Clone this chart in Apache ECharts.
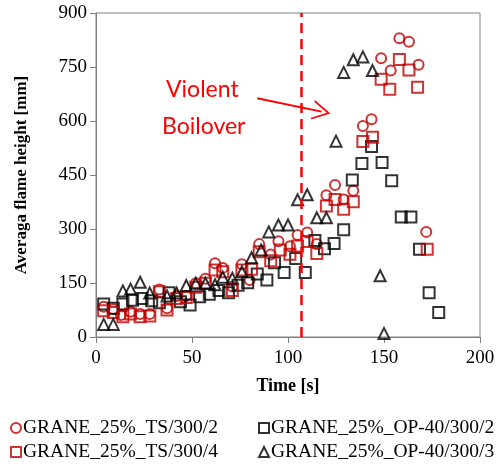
<!DOCTYPE html>
<html>
<head>
<meta charset="utf-8">
<script src="https://cdn.jsdelivr.net/npm/echarts@6/dist/echarts.min.js"></script>
<style>
html, body { margin: 0; padding: 0; background: #fff; }
#main { width: 503px; height: 468px; }
</style>
</head>
<body>
<div id="main"></div>
<script>
// GRANE_25%_TS/300/2 (red circles)
var ts2Time = [4, 9, 13, 18, 23, 28, 33, 37, 42, 47, 52, 57, 62, 66, 71, 76, 80, 85, 91, 95, 101, 105, 110, 115, 120, 124.5, 129, 134, 139, 143.5, 148.5, 153.5, 158, 163, 168, 172];
var ts2Height = [84, 77, 61, 70, 64, 64, 132, 80, 114, 114, 149, 162, 205, 192, 140, 202, 158, 258, 229, 266, 252, 283, 290, 258, 394, 422, 382, 406, 586, 605, 774, 740, 830, 820, 756, 292];

// GRANE_25%_OP-40/300/2 (black squares)
var op2Time = [4, 9, 14, 19, 24, 29, 33, 38, 44, 49, 54, 59, 64, 69, 74, 79, 84, 89, 93, 98, 104, 109, 114, 119, 124, 129, 133.5, 138.5, 143.5, 149, 154, 159, 164, 168.5, 173.5, 178.5];
var op2Height = [92, 80, 92, 102, 107, 101, 95, 123, 98, 89, 112, 119, 129, 123, 144, 151, 175, 158, 206, 179, 218, 179, 268, 245, 260, 298, 436, 482, 529, 485, 434, 333, 333, 244, 123, 68];

// GRANE_25%_TS/300/4 (red squares)
var ts4Time = [4, 9, 14, 18, 23, 28, 33, 37, 42, 47, 52, 57, 62, 66, 71, 76, 81, 85, 91, 96, 101, 105, 110, 115, 120, 124.5, 129, 134, 139, 144, 148.5, 153, 158, 163, 167.5, 172.5];
var ts4Height = [73, 68, 56, 64, 56, 58, 126, 75, 107, 110, 138, 149, 186, 181, 129, 186, 188, 237, 212, 242, 230, 253, 265, 232, 364, 382, 355, 376, 543, 555, 716, 688, 771, 742, 694, 244];

// GRANE_25%_OP-40/300/3 (black triangles)
var op3Time = [4, 9, 14, 18, 23, 28, 37, 42, 47, 52, 57, 62, 66, 71, 76, 81, 86, 90, 95, 100, 105, 110, 115, 120, 125, 129, 134, 139, 144, 148, 150];
var op3Height = [35, 35, 128, 133, 152, 122, 114, 122, 143, 149, 149, 145, 166, 163, 181, 220, 242, 292, 311, 311, 381, 395, 331, 331, 544, 735, 770, 778, 740, 170, 10];

var seriesNames = ['GRANE_25%_TS/300/2', 'GRANE_25%_OP-40/300/2', 'GRANE_25%_TS/300/4', 'GRANE_25%_OP-40/300/3'];
var boiloverTime = 107;
var arrowFrom = [84, 663];
var arrowTo = [117.5, 626];

function pairs(xs, ys) {
    return xs.map(function (x, i) { return [x, ys[i]]; });
}

var red = '#c00000';
var serif = '"Liberation Serif", "Times New Roman", serif';
var hollow = 'rgba(0,0,0,0)';

// one legend per entry so the 2x2 layout does not wrap
var legendPos = [[5, 413], [253, 413], [5, 437], [253, 437]];
var legends = seriesNames.map(function (name, i) {
    return {
        data: [name],
        left: legendPos[i][0], top: legendPos[i][1],
        itemWidth: 10, itemHeight: 10,
        textStyle: { fontFamily: serif, fontSize: 19.5, color: '#000', padding: [0, 0, 0, -3] }
    };
});

var myChart = echarts.init(document.getElementById('main'));

var option = {
    animation: false,
    grid: {
        left: 96, right: 23, top: 13, bottom: 131,
        show: true, borderColor: '#808080', borderWidth: 1
    },
    xAxis: {
        type: 'value', min: 0, max: 200, interval: 50,
        name: 'Time [s]', nameLocation: 'middle', nameGap: 40,
        nameTextStyle: { fontFamily: serif, fontWeight: 'bold', fontSize: 18, color: '#000' },
        axisLine: { lineStyle: { color: '#808080' } },
        axisTick: { show: true, length: 6, lineStyle: { color: '#808080' } },
        axisLabel: { fontFamily: serif, fontSize: 19, color: '#000', margin: 12 },
        splitLine: { show: false }
    },
    yAxis: {
        type: 'value', min: 0, max: 900, interval: 150,
        name: 'Averaga flame height [mm]', nameLocation: 'middle', nameGap: 66,
        nameTextStyle: { fontFamily: serif, fontWeight: 'bold', fontSize: 17, color: '#000' },
        axisLine: { show: true, lineStyle: { color: '#808080' } },
        axisTick: { show: true, length: 6, lineStyle: { color: '#808080' } },
        axisLabel: { fontFamily: serif, fontSize: 19, color: '#000', margin: 9 },
        splitLine: { show: false }
    },
    legend: legends,
    graphic: [
        {
            type: 'text', left: 166, top: 78,
            style: { text: 'Violent', fontFamily: 'Lato', fontSize: 23, fill: '#ff0000' }
        },
        {
            type: 'text', left: 162, top: 115,
            style: { text: 'Boilover', fontFamily: 'Lato', fontSize: 23, fill: '#ff0000' }
        }
    ],
    series: [
        {
            name: seriesNames[0], type: 'scatter', symbol: 'circle', symbolSize: 10,
            itemStyle: { color: hollow, borderColor: red, borderWidth: 2 },
            data: pairs(ts2Time, ts2Height),
            markLine: {
                silent: true, symbol: 'none',
                label: { show: false },
                lineStyle: { color: '#ff0000', type: [10, 6], width: 2.5 },
                data: [{ xAxis: boiloverTime }]
            }
        },
        {
            name: seriesNames[1], type: 'scatter', symbol: 'rect', symbolSize: 11,
            itemStyle: { color: hollow, borderColor: '#000', borderWidth: 2 },
            data: pairs(op2Time, op2Height)
        },
        {
            name: seriesNames[2], type: 'scatter', symbol: 'rect', symbolSize: 11,
            itemStyle: { color: hollow, borderColor: red, borderWidth: 2 },
            data: pairs(ts4Time, ts4Height),
            markLine: {
                silent: true,
                symbol: ['none', 'path://M0,20 L10,0 L20,20 L18,20 L10,4 L2,20 Z'],
                symbolSize: [20, 18],
                label: { show: false },
                lineStyle: { color: '#ff0000', type: 'solid', width: 2 },
                data: [[{ coord: arrowFrom }, { coord: arrowTo }]]
            }
        },
        {
            name: seriesNames[3], type: 'scatter', symbol: 'triangle', symbolSize: 11,
            itemStyle: { color: hollow, borderColor: '#000', borderWidth: 2 },
            data: pairs(op3Time, op3Height)
        }
    ]
};

myChart.setOption(option);
window.addEventListener('resize', function () {
    myChart.resize();
});
</script>
</body>
</html>
